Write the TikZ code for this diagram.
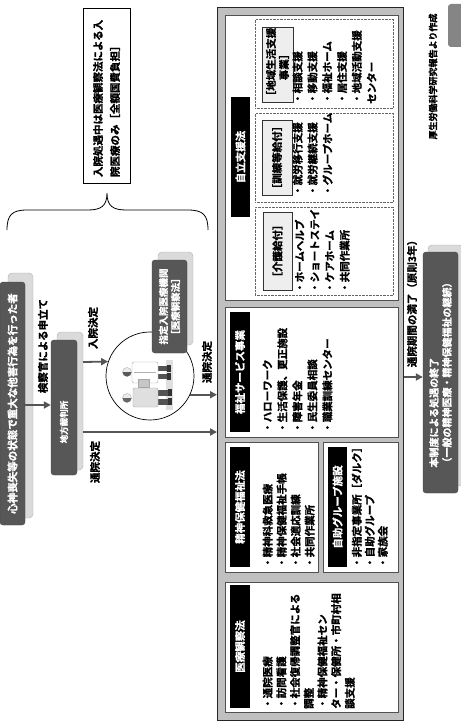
\documentclass[tikz,border=0pt]{standalone}
\usepackage{fontspec}
\setmainfont{Noto Sans CJK JP Bold}[FakeBold=1.2]
\usetikzlibrary{arrows.meta}
\definecolor{boxdark}{HTML}{575757}
\definecolor{shadefill}{HTML}{DADADA}
\definecolor{shadedraw}{HTML}{B0B0B0}
\definecolor{arrowgray}{HTML}{555555}
\definecolor{mainfill}{HTML}{C0C0C0}
\definecolor{panelline}{HTML}{505050}
\definecolor{keyfill}{HTML}{EEEEEE}
\definecolor{tabgray}{HTML}{858585}
\begin{document}
\begin{tikzpicture}[x=1pt,y=-1pt,
  every node/.style={font=\fontsize{10.5}{14}\selectfont},
  txt/.style={rotate=90, inner sep=0pt},
  darkbox/.style={rotate=90, fill=boxdark, draw=boxdark!80!black, rounded corners=3pt, text=white, inner sep=0pt},
  shadowbox/.style={rotate=90, fill=shadefill, draw=shadedraw, rounded corners=4pt, inner sep=0pt},
  panel/.style={draw=panelline, fill=white, line width=0.8pt, inner sep=0pt, anchor=north west},
  tag/.style={rotate=90, fill=black, text=white, inner sep=0pt},
  subpanel/.style={draw=gray!80!black, densely dotted, inner sep=0pt, anchor=north west},
  keybox/.style={rotate=90, draw=black!80, fill=keyfill, inner sep=0pt, align=center},
  items/.style={rotate=90, inner sep=0pt, anchor=north west, align=left},
  arr/.style={draw=arrowgray, line width=1.8pt, -{Triangle[length=7pt,width=7pt]}},
]
\useasboundingbox (0,0) rectangle (460,722);
\fill[white] (0,0) rectangle (460,722);

% brace over the in-patient note
\draw[line width=0.8pt] (7,230) .. controls (7,215) and (12,210) .. (27,210) -- (88,210)
  .. controls (101,210) and (107,206) .. (107,193)
  .. controls (107,206) and (113,210) .. (126,210) -- (188,210)
  .. controls (203,210) and (208,215) .. (208,230);
\node[txt, draw, line width=0.6pt, minimum width=175pt, minimum height=47pt, text width=163pt,
  align=left, font=\fontsize{10.5}{17}\selectfont] (note) at (106.5,95.5)
  {入院処遇中は医療観察法による入\\院医療のみ［全額国費負担］};

% left flow: offender -> court
\node[shadowbox, minimum width=245pt, minimum height=25pt] (offsh) at (20.5,395.5) {};
\node[darkbox, minimum width=243pt, minimum height=25pt] (offender) at (12.5,403.5)
  {心神喪失等の状態で重大な他害行為を行った者};
\node[shadowbox, minimum width=138pt, minimum height=26pt] (courtsh) at (70,401) {};
\node[darkbox, minimum width=135pt, minimum height=26pt] (court) at (64,407.5) {};
\node[txt, text=white, font=\fontsize{8.5}{10}\selectfont] (courttxt) at (64,422) {地方裁判所};
\coordinate (yapp) at (0,405);
\draw[arr] (offender.south |- yapp) -- (court.north |- yapp);
\node[txt] (lblapp) at (43,346) {検察官による申立て};

% designated hospital with its picture
\node[circle, draw, line width=0.7pt, minimum size=88pt, inner sep=0pt] (circ) at (150,376) {};
% floor shadow
\fill[gray!25] (166,360) rectangle (173,410);
% doctor
\fill[gray!65!black] (152,366) rectangle (168,371);
\fill[gray!65!black] (152,374) rectangle (168,379);
\fill[black!80] (167,365) rectangle (171,372);
\fill[black!80] (167,373) rectangle (171,380);
\filldraw[fill=white, draw=gray!70, rounded corners=2pt] (132,362) rectangle (158,383);
\draw[gray!60] (134,372) -- (156,372);
\filldraw[fill=gray!45, draw=gray!70] (138,379) rectangle (149,387);
\filldraw[fill=gray!15, draw=gray!60] (127,372) circle (4.5);
\fill[gray!70!black] (122.5,372) arc (180:0:4.5) -- cycle;
% patient
\fill[gray!65!black] (155,390) rectangle (170,396);
\fill[gray!65!black] (155,399) rectangle (170,405);
\fill[black!80] (168,389) rectangle (172,396);
\fill[black!80] (168,398) rectangle (172,405);
\filldraw[fill=gray!25, draw=gray!70, rounded corners=2pt] (133,388) rectangle (158,407);
\filldraw[fill=gray!15, draw=gray!60] (127,398) circle (4.5);
\fill[gray!80!black] (122.5,398) arc (180:0:4.5) -- cycle;

\node[shadowbox, minimum width=93pt, minimum height=35pt] (hospsh) at (175.5,298.5) {};
\node[darkbox, minimum width=93pt, minimum height=35pt, align=center,
  font=\fontsize{9.5}{12}\selectfont] (hosp) at (169.5,306.5) {指定入院医療機関\\［医療観察法］};

% main frame and its panels
\node[draw=black!85, line width=0.8pt, fill=mainfill, anchor=north west, minimum width=186pt,
  minimum height=713pt, inner sep=0pt] (mainbox) at (217,7) {};
\node[panel, minimum width=173pt, minimum height=285pt] (p1) at (225,15) {};
\node[panel, minimum width=173pt, minimum height=130pt] (p2) at (225,307) {};
\node[panel, minimum width=93pt, minimum height=130pt] (p3) at (225,442) {};
\node[panel, minimum width=75pt, minimum height=130pt] (p4) at (323,442) {};
\node[panel, minimum width=173pt, minimum height=130pt] (p5) at (225,582) {};

% court decisions
\coordinate (yin) at (0,362);
\coordinate (yout) at (0,432);
\draw[arr] (courtsh.south |- yin) -- (circ.161.5);
\draw[arr] (courtsh.south |- yout) -- (mainbox.west |- yout);
\draw[arr] (circ.-25) -- (mainbox.west |- circ.-25);
\node[txt] (lblin) at (93,328) {入院決定};
\node[txt] (lblout) at (95,462) {通院決定};
\node[txt] (lblout2) at (207,362) {通院決定};

% panel titles
\node[tag, minimum width=120pt, minimum height=19pt] (tag1) at (240.5,157) {自立支援法};
\node[tag, minimum width=120pt, minimum height=20pt] (tag2) at (240,372) {福祉サービス事業};
\node[tag, minimum width=120pt, minimum height=20pt] (tag3) at (240,507) {精神保健福祉法};
\node[tag, minimum width=120pt, minimum height=19pt] (tag4) at (337.5,507) {自助グループ施設};
\node[tag, minimum width=123pt, minimum height=20pt] (tag5) at (240,646.5) {医療観察法};

% support-act groups
\node[subpanel, minimum width=138pt, minimum height=89pt] (sp1) at (255,19) {};
\node[subpanel, minimum width=138pt, minimum height=89pt] (sp2) at (255,113) {};
\node[subpanel, minimum width=138pt, minimum height=88pt] (sp3) at (255,207) {};
\node[keybox, minimum width=75pt, minimum height=31pt, font=\fontsize{10.5}{13}\selectfont]
  (key1) at (277.5,64.5) {［地域生活支援\\事業］};
\node[keybox, minimum width=75pt, minimum height=30pt] (key2) at (277,157.5) {［訓練等給付］};
\node[keybox, minimum width=78pt, minimum height=29pt] (key3) at (277.5,251) {［介護給付］};

\node[items, font=\fontsize{10.5}{14.8}\selectfont] (list1) at (292.5,104)
  {・相談支援\\・移動支援\\・福祉ホーム\\・居住支援\\・地域活動支援\\センター};
\node[items, font=\fontsize{10.5}{15}\selectfont] (list2) at (292.5,196)
  {・就労移行支援\\・就労継続支援\\・グループホーム};
\node[items, font=\fontsize{10.5}{15}\selectfont] (list3) at (294.5,293)
  {・ホームヘルプ\\・ショートステイ\\・ケアホーム\\・共同作業所};
\node[items, font=\fontsize{10.5}{15}\selectfont] (list4) at (262.5,433)
  {・ハローワーク\\・生活保護、更正施設\\・障害年金\\・民生委員相談\\・職業訓練センター};
\node[items, font=\fontsize{10.5}{14}\selectfont] (list5) at (262.5,568)
  {・精神科救急医療\\・精神保健福祉手帳\\・社会適応訓練\\・共同作業所};
\node[items, font=\fontsize{10.5}{13}\selectfont] (list6) at (351.5,568)
  {・非指定事業所［ダルク］\\・自助グループ\\・家族会};
\node[items, font=\fontsize{10.5}{13.7}\selectfont] (list7) at (262.5,709)
  {・通院医療\\・訪問看護\\・社会復帰調整官による\\調整\\・精神保健福祉セン\\ター・保健所・市町村相\\談支援};

% end of the scheme
\node[shadowbox, minimum width=241pt, minimum height=35pt] (endsh) at (445.5,365.5) {};
\node[darkbox, minimum width=241pt, minimum height=35pt, align=left,
  font=\fontsize{10}{13}\selectfont] (endbox) at (440.5,372.5)
  {本制度による処遇の終了\\（一般の精神医療・精神保健福祉の継続）};
\coordinate (yend) at (0,377);
\draw[arr] (mainbox.east |- yend) -- (endbox.north |- yend);
\node[txt] (lblend) at (412,301) {通院期間の満了（原則3年）};

\node[txt, font=\fontsize{9}{10}\selectfont] (source) at (433,76.5) {厚生労働科学研究報告より作成};
\fill[tabgray, rounded corners=3pt] (448,4) rectangle (470,47);
\end{tikzpicture}
\end{document}
